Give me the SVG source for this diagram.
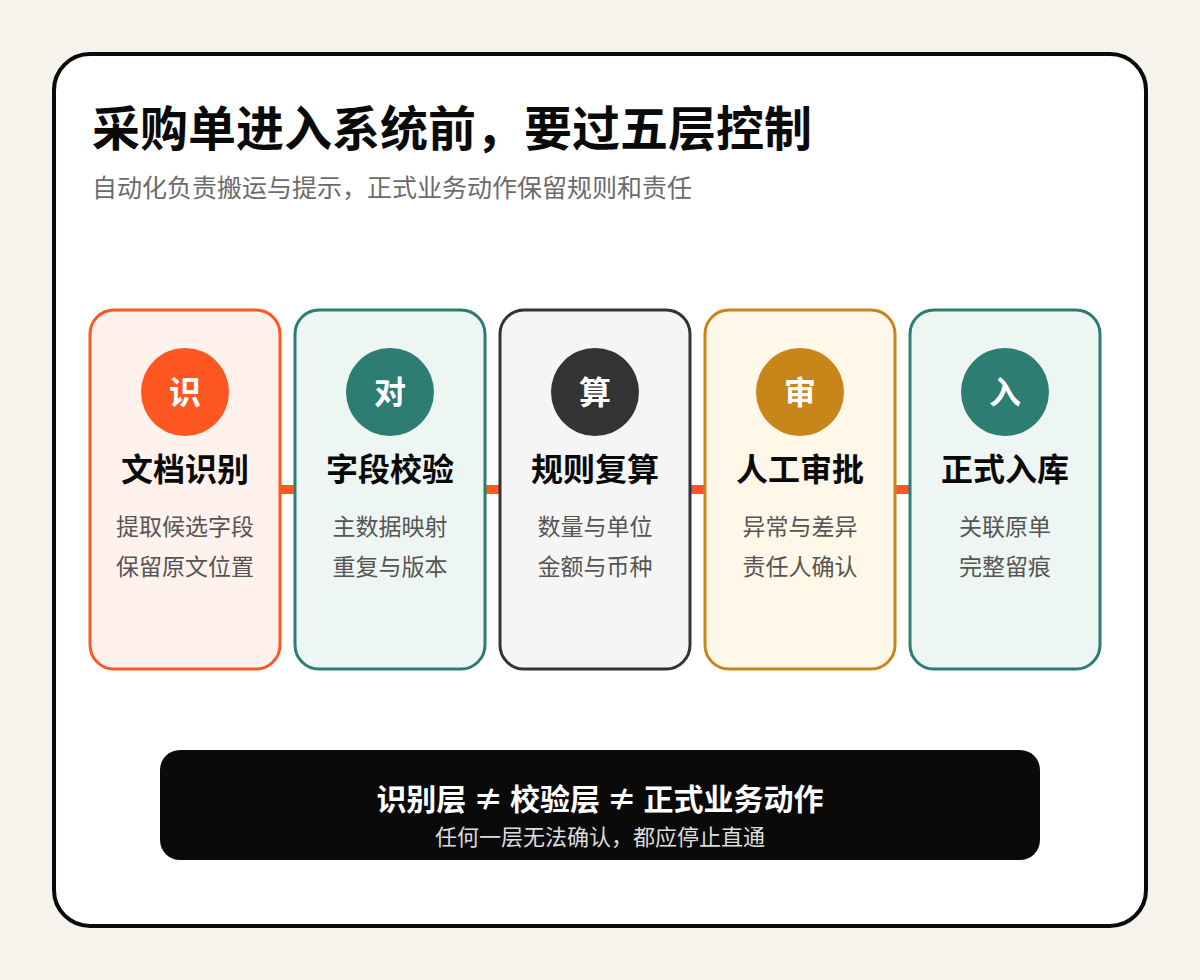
<svg xmlns="http://www.w3.org/2000/svg" width="1200" height="980" viewBox="0 0 1200 980">
<style>
text{font-family:"Noto Sans CJK SC","Noto Sans",sans-serif}
.title{font-size:48px;font-weight:700;fill:#0a0a0a}
.sub{font-size:25px;fill:#6b6b6b}
.card{stroke-width:3}
.icon{font-size:32px;font-weight:700;fill:#fff;text-anchor:middle}
.head{font-size:32px;font-weight:700;fill:#0a0a0a;text-anchor:middle}
.line{font-size:23px;fill:#555;text-anchor:middle}
.conn{fill:#ff5722}
</style>
<rect width="1200" height="980" fill="#f6f2ec"/>
<rect x="54" y="54" width="1092" height="872" rx="36" fill="#fff" stroke="#0a0a0a" stroke-width="4"/>
<text class="title" x="92" y="146">采购单进入系统前，要过五层控制</text>
<text class="sub" x="92" y="197">自动化负责搬运与提示，正式业务动作保留规则和责任</text>
<g id="connectors">
<rect class="conn" x="280" y="485" width="15" height="9"/>
<rect class="conn" x="485" y="485" width="15" height="9"/>
<rect class="conn" x="690" y="485" width="15" height="9"/>
<rect class="conn" x="895" y="485" width="15" height="9"/>
</g>
<g id="node1">
<rect class="card" x="90" y="310" width="190" height="359" rx="24" fill="#fff1ec" stroke="#ff5722"/>
<circle cx="185" cy="392" r="44" fill="#ff5722"/>
<text class="icon" x="185" y="404">识</text>
<text class="head" x="185" y="481">文档识别</text>
<text class="line" x="185" y="535">提取候选字段</text>
<text class="line" x="185" y="575">保留原文位置</text>
</g>
<g id="node2">
<rect class="card" x="295" y="310" width="190" height="359" rx="24" fill="#eef6f4" stroke="#2e7d73"/>
<circle cx="390" cy="392" r="44" fill="#2e7d73"/>
<text class="icon" x="390" y="404">对</text>
<text class="head" x="390" y="481">字段校验</text>
<text class="line" x="390" y="535">主数据映射</text>
<text class="line" x="390" y="575">重复与版本</text>
</g>
<g id="node3">
<rect class="card" x="500" y="310" width="190" height="359" rx="24" fill="#f5f5f5" stroke="#333"/>
<circle cx="595" cy="392" r="44" fill="#333"/>
<text class="icon" x="595" y="404">算</text>
<text class="head" x="595" y="481">规则复算</text>
<text class="line" x="595" y="535">数量与单位</text>
<text class="line" x="595" y="575">金额与币种</text>
</g>
<g id="node4">
<rect class="card" x="705" y="310" width="190" height="359" rx="24" fill="#fff7e8" stroke="#c8861a"/>
<circle cx="800" cy="392" r="44" fill="#c8861a"/>
<text class="icon" x="800" y="404">审</text>
<text class="head" x="800" y="481">人工审批</text>
<text class="line" x="800" y="535">异常与差异</text>
<text class="line" x="800" y="575">责任人确认</text>
</g>
<g id="node5">
<rect class="card" x="910" y="310" width="190" height="359" rx="24" fill="#eef6f4" stroke="#2e7d73"/>
<circle cx="1005" cy="392" r="44" fill="#2e7d73"/>
<text class="icon" x="1005" y="404">入</text>
<text class="head" x="1005" y="481">正式入库</text>
<text class="line" x="1005" y="535">关联原单</text>
<text class="line" x="1005" y="575">完整留痕</text>
</g>
<g id="footer">
<rect x="160" y="750" width="880" height="110" rx="20" fill="#0a0a0a"/>
<text x="600" y="810" text-anchor="middle" font-size="30" font-weight="700" fill="#fff">识别层 ≠ 校验层 ≠ 正式业务动作</text>
<text x="600" y="845" text-anchor="middle" font-size="22" fill="#ddd">任何一层无法确认，都应停止直通</text>
</g>
</svg>
